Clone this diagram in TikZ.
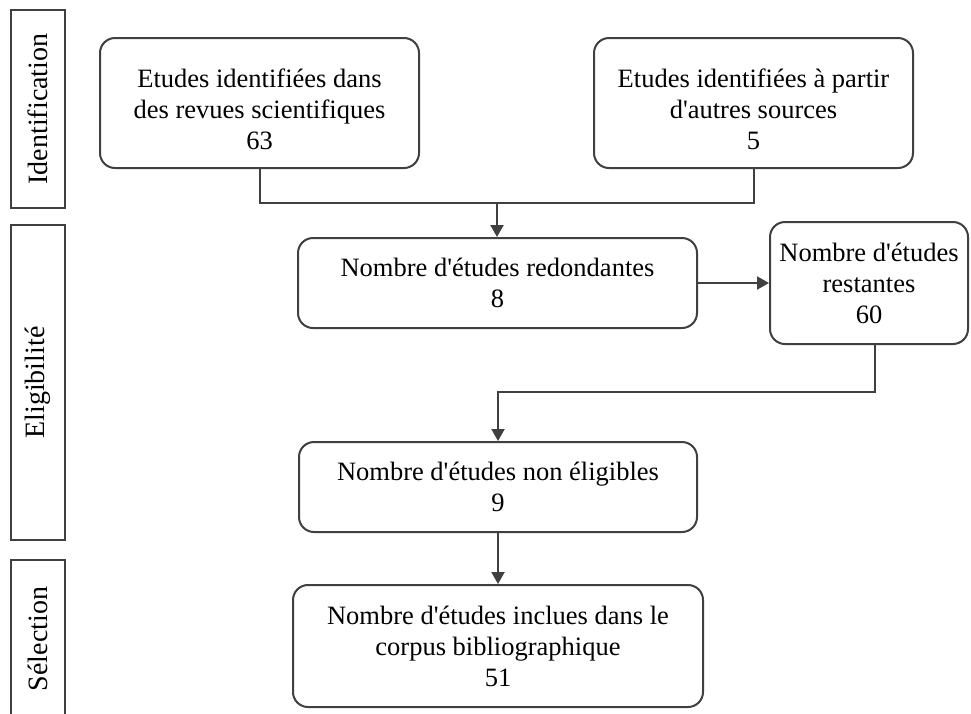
\documentclass[tikz,border=0pt]{standalone}
\usepackage{fontspec}
\setmainfont{Liberation Serif}
\usetikzlibrary{arrows.meta,calc}
\definecolor{ln}{HTML}{404040}
\newcommand{\ap}{\textquotesingle}
\begin{document}
\begin{tikzpicture}[x=1pt,y=-1pt,
  box/.style={draw=ln, line width=2pt, rounded corners=15pt, align=center, font=\fontsize{26.5}{31}\selectfont, inner sep=0pt},
  side/.style={draw=ln, line width=2pt, inner sep=0pt, font=\fontsize{28}{32}\selectfont, rotate=90, minimum height=54pt},
  conn/.style={draw=ln, line width=2pt},
  arr/.style={conn, -{Triangle[length=12pt,width=13pt]}},
]
\useasboundingbox (0,0) rectangle (971,713);
\fill[white] (0,0) rectangle (971,713);

% side labels
\node[side, minimum width=198pt] (sid) at (38,109) {Identification};
\node[side, minimum width=315pt] (sel) at (38,382.5) {Eligibilité};
\node[side, minimum width=158pt] (ssel) at (38,639) {Sélection};

% boxes
\node[box, minimum width=319pt, minimum height=130pt] (b1) at (259.5,103) {\rule{0pt}{32pt}Etudes identifiées dans\\des revues scientifiques\\63};
\node[box, minimum width=319pt, minimum height=130pt] (b2) at (753.5,103) {\rule{0pt}{32pt}Etudes identifiées à partir\\d\ap autres sources\\5};
\node[box, minimum width=399pt, minimum height=90pt] (b3) at (497.5,283) {Nombre d\ap études redondantes\\8};
\node[box, minimum width=198pt, minimum height=122pt] (b4) at (869,283) {Nombre d\ap études\\restantes\\60};
\node[box, minimum width=398pt, minimum height=90pt] (b5) at (498,487) {Nombre d\ap études non éligibles\\9};
\node[box, minimum width=410pt, minimum height=122pt] (b6) at (498,646) {Nombre d\ap études inclues dans le\\corpus bibliographique\\51};

% connectors
\coordinate (j) at (497,203);
\coordinate (k) at (875,392);
\draw[conn] (b1.south) -- (b1.south |- j) -- (b2.south |- j) -- (b2.south);
\draw[arr] (j) -- (j |- b3.north);
\draw[arr] (b3.east) -- (b4.west);
\draw[arr] (b4.south -| k) -- (k) -- (k -| b5.north) -- (b5.north);
\draw[arr] (b5.south) -- (b6.north);
\end{tikzpicture}
\end{document}
